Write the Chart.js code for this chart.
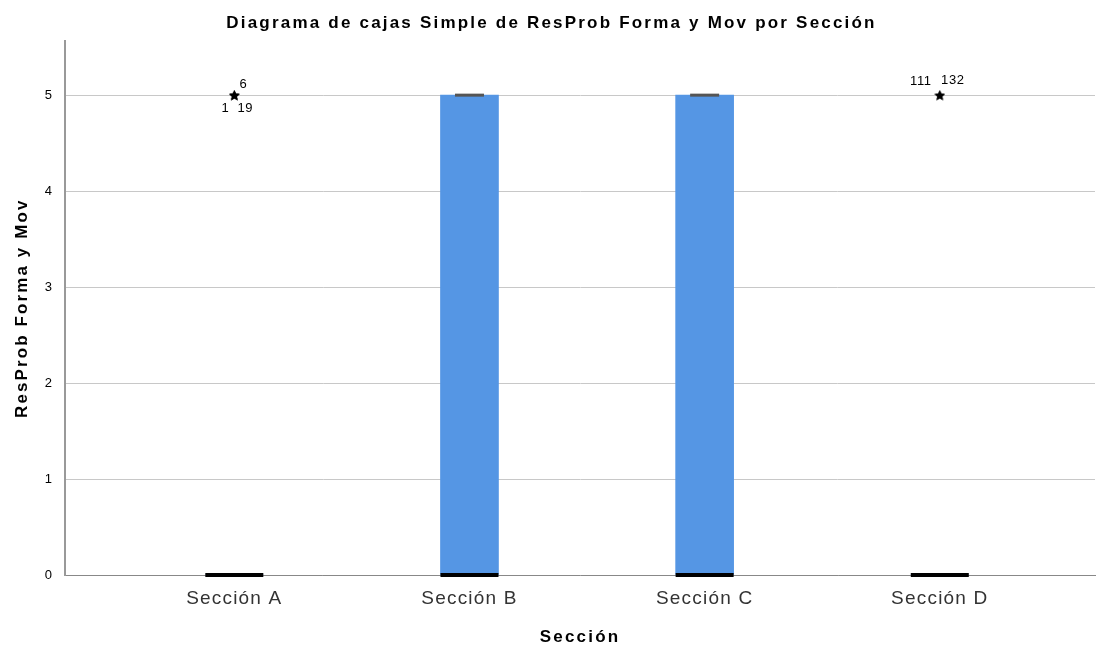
<!DOCTYPE html>
<html>
<head>
<meta charset="utf-8">
<script src="https://cdn.jsdelivr.net/npm/chart.js@4.4.1/dist/chart.umd.min.js"></script>
<style>
  html, body { margin: 0; padding: 0; background: #fff; }
  #wrap { width: 1096px; height: 648px; }
</style>
</head>
<body>
<div id="wrap"><canvas id="boxChart" width="1096" height="648"></canvas></div>
<script>
// Box plot data
const categories = ['Sección A', 'Sección B', 'Sección C', 'Sección D'];
const q1Values = [0, 0, 0, 0];
const medianValues = [0, 0, 0, 0];
const q3Values = [0, 5, 5, 0];
const whiskerTop = [null, 5, 5, null];
const outlierSection = [1, 1, 1, 4, 4];
const outlierValues = [5, 5, 5, 5, 5];
const outlierCases = ['1', '19', '6', '111', '132'];
const yTicks = [0, 1, 2, 3, 4, 5];

// label offsets around the star (px), per case
const labelOffsets = {
    '1': [-9, 13], '19': [11, 13], '6': [9, -11],
    '111': [-19, -14], '132': [13, -15]
};

const FONT = '"Liberation Sans", Arial, sans-serif';

// filled five point star used for extreme values
function makeStar(size) {
    const c = document.createElement('canvas');
    c.width = size; c.height = size;
    const g = c.getContext('2d');
    const cx = size / 2, cy = size / 2 + 0.5, R = size / 2, r = R * 0.45;
    g.beginPath();
    for (let i = 0; i < 10; i++) {
        const rad = i % 2 === 0 ? R : r;
        const a = -Math.PI / 2 + i * Math.PI / 5;
        g.lineTo(cx + rad * Math.cos(a), cy + rad * Math.sin(a));
    }
    g.closePath();
    g.fillStyle = '#000';
    g.fill();
    return c;
}
const starImg = makeStar(11);

const boxData = categories.map((c, i) => ({ x: i + 1, y: [q1Values[i], q3Values[i]] }));
const medianData = categories.map((c, i) => ({ x: i + 1, y: medianValues[i] }));
const whiskerData = categories.map((c, i) => ({ x: i + 1, y: whiskerTop[i] })).filter(p => p.y !== null);
const outlierData = outlierSection.map((s, i) => ({ x: s, y: outlierValues[i], label: outlierCases[i] }));

// the original text is rendered wider, so add some letter spacing per text block
function withSpacing(chart, obj, method, sp) {
    if (!obj || obj['_sp_' + method]) return;
    const orig = obj[method];
    obj[method] = function() {
        const c = chart.ctx;
        const prev = c.letterSpacing;
        c.letterSpacing = sp;
        const r = orig.apply(this, arguments);
        c.letterSpacing = prev;
        return r;
    };
    obj['_sp_' + method] = true;
}

const textSpacing = {
    id: 'textSpacing',
    beforeLayout(chart) {
        withSpacing(chart, chart.titleBlock, 'draw', '2.2px');
        withSpacing(chart, chart.scales.x, 'drawLabels', '1.2px');
        withSpacing(chart, chart.scales.x, 'drawTitle', '2.2px');
        withSpacing(chart, chart.scales.y, 'drawTitle', '2.1px');
    }
};

const outlierLabels = {
    id: 'outlierLabels',
    afterDatasetsDraw(chart) {
        const ctx = chart.ctx;
        const xs = chart.scales.x, ys = chart.scales.y;
        ctx.save();
        ctx.letterSpacing = '0.6px';
        ctx.font = '13px ' + FONT;
        ctx.fillStyle = '#000';
        ctx.textAlign = 'center';
        ctx.textBaseline = 'middle';
        outlierData.forEach(p => {
            const off = labelOffsets[p.label] || [0, -12];
            ctx.fillText(p.label, xs.getPixelForValue(p.x) + off[0], ys.getPixelForValue(p.y) + off[1]);
        });
        ctx.restore();
    }
};

const ctx = document.getElementById('boxChart');
new Chart(ctx, {
    type: 'bar',
    data: {
        datasets: [
            {
                type: 'bar',
                label: 'Caja',
                data: boxData,
                backgroundColor: 'rgb(85, 150, 228)',
                borderWidth: 0,
                barThickness: 58,
                order: 3
            },
            {
                type: 'scatter',
                label: 'Bigote',
                data: whiskerData,
                pointStyle: 'line',
                pointRadius: 14.5,
                borderColor: '#555',
                borderWidth: 3,
                clip: false,
                order: 2
            },
            {
                type: 'scatter',
                label: 'Mediana',
                data: medianData,
                pointStyle: 'line',
                pointRadius: 29,
                borderColor: '#000',
                borderWidth: 4,
                clip: false,
                order: 1
            },
            {
                type: 'scatter',
                label: 'Extremos',
                data: outlierData,
                pointStyle: starImg,
                pointRadius: 5,
                clip: false,
                order: 0
            }
        ]
    },
    options: {
        responsive: false,
        animation: false,
        layout: { autoPadding: false, padding: { left: 8, right: 1, top: 0, bottom: 0 } },
        plugins: {
            legend: { display: false },
            tooltip: { enabled: false },
            title: {
                display: true,
                text: 'Diagrama de cajas Simple de ResProb Forma y Mov por Sección',
                color: '#000',
                font: { family: FONT, size: 17, weight: 'bold' },
                padding: { top: 13, bottom: 8 }
            }
        },
        scales: {
            x: {
                type: 'linear',
                offset: false,
                min: 0.28,
                max: 4.66,
                afterBuildTicks: axis => { axis.ticks = categories.map((c, i) => ({ value: i + 1 })); },
                afterFit: axis => { axis.height = 73; axis.paddingLeft = 0; axis.paddingRight = 0; },
                ticks: {
                    callback: v => categories[v - 1],
                    color: '#333',
                    font: { family: FONT, size: 19 },
                    padding: 12,
                    autoSkip: false,
                    maxRotation: 0
                },
                grid: { display: false, drawTicks: false },
                border: { color: '#888', width: 1 },
                title: {
                    display: true,
                    text: 'Sección',
                    color: '#000',
                    font: { family: FONT, size: 17, weight: 'bold' },
                    padding: { top: 18, bottom: 0 }
                }
            },
            y: {
                min: 0,
                max: 5.56,
                afterBuildTicks: axis => { axis.ticks = yTicks.map(v => ({ value: v })); },
                afterFit: axis => { axis.width = 57; },
                ticks: {
                    color: '#000',
                    font: { family: FONT, size: 13 },
                    padding: 13
                },
                grid: { color: '#c8c8c8', lineWidth: 1, drawTicks: false },
                border: { color: '#999', width: 2 },
                title: {
                    display: true,
                    text: 'ResProb Forma y Mov',
                    color: '#000',
                    font: { family: FONT, size: 17, weight: 'bold' },
                    padding: { bottom: 6 }
                }
            }
        }
    },
    plugins: [textSpacing, outlierLabels]
});
</script>
</body>
</html>
